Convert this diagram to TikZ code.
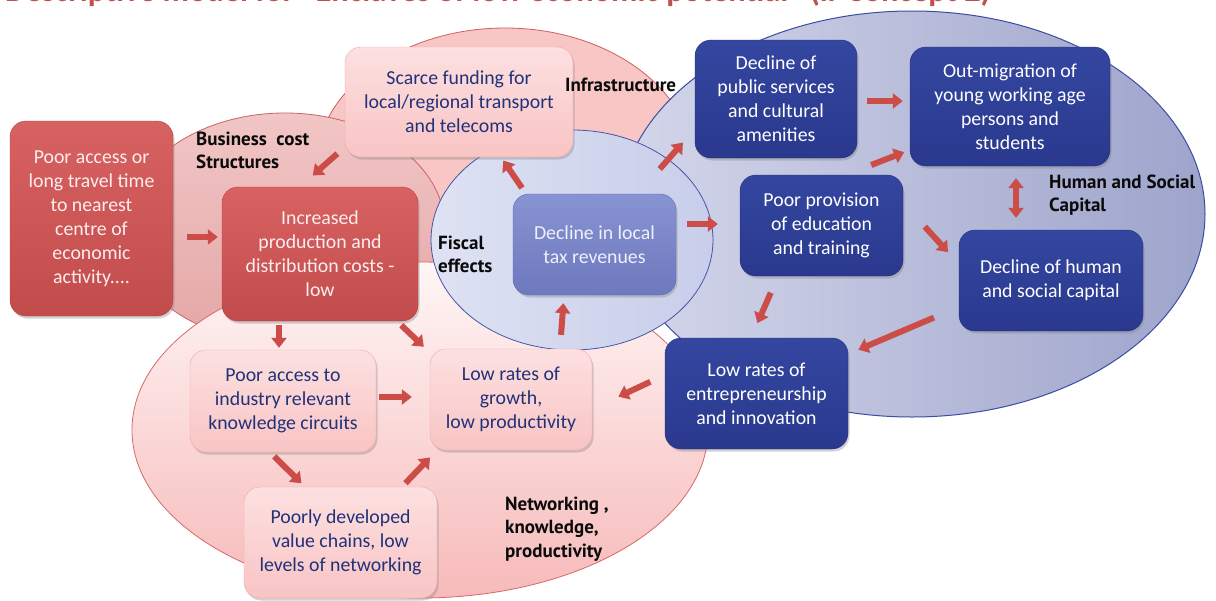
\documentclass[tikz,border=0pt]{standalone}
\usepackage{fontspec}
\setmainfont{Carlito}
\newfontfamily\lblfont{PT Sans}
\usetikzlibrary{arrows.meta,shadows}
\definecolor{arrred}{RGB}{204,76,72}
\definecolor{titlered}{RGB}{192,80,77}
\definecolor{txtnavy}{RGB}{32,50,122}
\definecolor{lbltxt}{RGB}{10,10,10}
\tikzset{
  box/.style={rounded corners=16pt, align=center, inner sep=4pt,
    font=\fontsize{19.8}{24}\selectfont,
    drop shadow={opacity=0.35, shadow xshift=1.5pt, shadow yshift=-2.5pt}},
  redbox/.style={box, top color={rgb,255:red,216;green,98;blue,98}, bottom color={rgb,255:red,194;green,76;blue,76},
    draw={rgb,255:red,180;green,66;blue,66}, text={rgb,255:red,252;green,238;blue,238}},
  pinkbox/.style={box, top color={rgb,255:red,253;green,224;blue,224}, bottom color={rgb,255:red,249;green,196;blue,196},
    draw={rgb,255:red,236;green,170;blue,170}, text=txtnavy},
  peribox/.style={box, top color={rgb,255:red,136;green,147;blue,210}, bottom color={rgb,255:red,110;green,121;blue,190},
    draw={rgb,255:red,95;green,105;blue,175}, text={rgb,255:red,238;green,240;blue,252}},
  bluebox/.style={box, top color={rgb,255:red,52;green,70;blue,160}, bottom color={rgb,255:red,42;green,57;blue,142},
    draw={rgb,255:red,35;green,48;blue,120}, text=white},
  lbl/.style={anchor=north west, inner sep=0pt, align=left, text=lbltxt,
    font=\lblfont\bfseries\fontsize{19}{23.5}\selectfont},
  arr/.style={draw=arrred, line width=6pt, -{Triangle[length=10pt,width=15pt]}},
  darr/.style={draw=arrred, line width=6pt, {Triangle[length=10pt,width=15pt]}-{Triangle[length=10pt,width=15pt]}}
}
\begin{document}
\begin{tikzpicture}[x=1pt,y=-1pt]
\useasboundingbox (0,0) rectangle (1216,600);
\clip (0,0) rectangle (1216,600);
\fill[white] (0,0) rectangle (1216,600);

% title (cut off at the top in the reference)
\node[anchor=base west, inner sep=0pt, text=titlered, font=\bfseries\fontsize{32.4}{36}\selectfont] (title) at (5,1)
  {Descriptive model for “Enclaves of low economic potential” (ir Concept 2)};

% background ellipses
\path[fill={rgb,255:red,249;green,198;blue,198}, draw={rgb,255:red,205;green,95;blue,95}, line width=0.8pt]
  (505,170) ellipse [x radius=190, y radius=142];
\path[top color={rgb,255:red,242;green,198;blue,198}, bottom color={rgb,255:red,228;green,166;blue,166},
  draw={rgb,255:red,200;green,100;blue,100}, line width=0.8pt]
  (285,228) ellipse [x radius=160, y radius=115];
\path[left color={rgb,255:red,212;green,215;blue,234}, right color={rgb,255:red,158;green,164;blue,204},
  draw={rgb,255:red,60;green,75;blue,165}, line width=1pt]
  (912,214) ellipse [x radius=293, y radius=203];
\path[top color={rgb,255:red,255;green,246;blue,246}, bottom color={rgb,255:red,247;green,186;blue,186},
  draw={rgb,255:red,215;green,105;blue,105}, line width=0.8pt]
  (420,430) ellipse [x radius=288, y radius=168];
\path[left color={rgb,255:red,222;green,226;blue,243}, right color={rgb,255:red,200;green,206;blue,234},
  draw={rgb,255:red,70;green,85;blue,165}, line width=0.8pt]
  (572,240) ellipse [x radius=141, y radius=110];

% boxes
\node[redbox, minimum width=163pt, minimum height=195pt] (poor) at (91.5,218.5)
  {Poor access or\\long travel time\\to nearest\\centre of\\economic\\activity....};
\node[redbox, minimum width=196pt, minimum height=134pt] (inc) at (320,254)
  {Increased\\production and\\distribution costs -\\low};
\node[pinkbox, minimum width=228pt, minimum height=110pt] (scarce) at (459,102)
  {Scarce funding for\\local/regional transport\\and telecoms};
\node[peribox, minimum width=163pt, minimum height=101pt] (tax) at (594.5,244.5)
  {Decline in local\\tax revenues};
\node[bluebox, minimum width=162pt, minimum height=118pt] (pub) at (776,99)
  {Decline of\\public services\\and cultural\\amenities};
\node[bluebox, minimum width=200pt, minimum height=119pt] (out) at (1010,106.5)
  {Out-migration of\\young working age\\persons and\\students};
\node[bluebox, minimum width=163pt, minimum height=101pt] (prov) at (821.5,225.5)
  {Poor provision\\of education\\and training};
\node[bluebox, minimum width=184pt, minimum height=101pt] (hum) at (1051,280.5)
  {Decline of human\\and social capital};
\node[bluebox, minimum width=183pt, minimum height=111pt] (ent) at (756.5,393.5)
  {Low rates of\\entrepreneurship\\and innovation};
\node[pinkbox, minimum width=186pt, minimum height=102pt] (ind) at (283,401)
  {Poor access to\\industry relevant\\knowledge circuits};
\node[pinkbox, minimum width=162pt, minimum height=101pt] (growth) at (511,399.5)
  {Low rates of\\growth,\\low productivity};
\node[pinkbox, minimum width=193pt, minimum height=111pt] (chain) at (340.5,542.5)
  {Poorly developed\\value chains, low\\levels of networking};

% group labels
\node[lbl] (lbcost) at (196,131.5) {Business\ \ cost\\Structures};
\node[lbl] (lbinfra) at (565,77.5) {Infrastructure};
\node[lbl] (lbfisc) at (438,235.5) {Fiscal\\effects};
\node[lbl] (lbhum) at (1049,174.5) {Human and Social\\Capital};
\node[lbl] (lbnet) at (505,496.5) {Networking ,\\knowledge,\\productivity};

% arrows
\draw[arr, shorten <=14pt, shorten >=4pt] (poor.east |- 0,237) -- (inc.west |- 0,237);
\draw[arr, shorten <=10pt, shorten >=17pt] (scarce.west |- 0,147) -- (inc.north -| 300,0);
\draw[arr, shorten <=4pt, shorten >=2pt] (inc.south -| 279,0) -- (ind.north -| 279,0);
\draw[arr, shorten <=6pt, shorten >=3pt] (inc.south -| 397,0) -- (growth.north -| 426,0);
\draw[arr, shorten <=3pt, shorten >=18pt] (ind.east |- 0,397) -- (growth.west |- 0,397);
\draw[arr, shorten <=6pt, shorten >=5pt] (ind.south -| 270,0) -- (chain.north -| 305,0);
\draw[arr, shorten <=5pt, shorten >=10pt] (chain.north -| 402,0) -- (growth.south -| 437,0);
\draw[arr, shorten <=14pt, shorten >=8pt] (growth.north -| 560,0) -- (tax.south -| 564,0);
\draw[arr, shorten <=7pt, shorten >=4pt] (tax.north -| 526,0) -- (scarce.south -| 501,0);
\draw[arr, shorten <=33pt, shorten >=18pt] (tax.north -| 638,0) -- (pub.west |- 0,129);
\draw[arr, shorten <=11pt, shorten >=22pt] (tax.east |- 0,224) -- (prov.west |- 0,224);
\draw[arr, shorten <=10pt, shorten >=7pt] (pub.east |- 0,101) -- (out.west |- 0,101);
\draw[arr, shorten <=27pt, shorten >=6pt] (prov.north -| 846,0) -- (out.west |- 0,150);
\draw[darr, shorten <=12pt, shorten >=12pt] (out.south -| 1016,0) -- (hum.north -| 1016,0);
\draw[arr, shorten <=32pt, shorten >=16pt] (prov.east |- 0,203) -- (hum.west |- 0,264);
\draw[arr, shorten <=18pt, shorten >=16pt] (prov.south -| 778,0) -- (ent.north -| 751,0);
\draw[arr, shorten <=27pt, shorten >=11pt] (hum.west |- 0,307) -- (ent.east |- 0,354);
\draw[arr, shorten <=16pt, shorten >=29pt] (ent.west |- 0,375) -- (growth.east |- 0,409);
\end{tikzpicture}
\end{document}
